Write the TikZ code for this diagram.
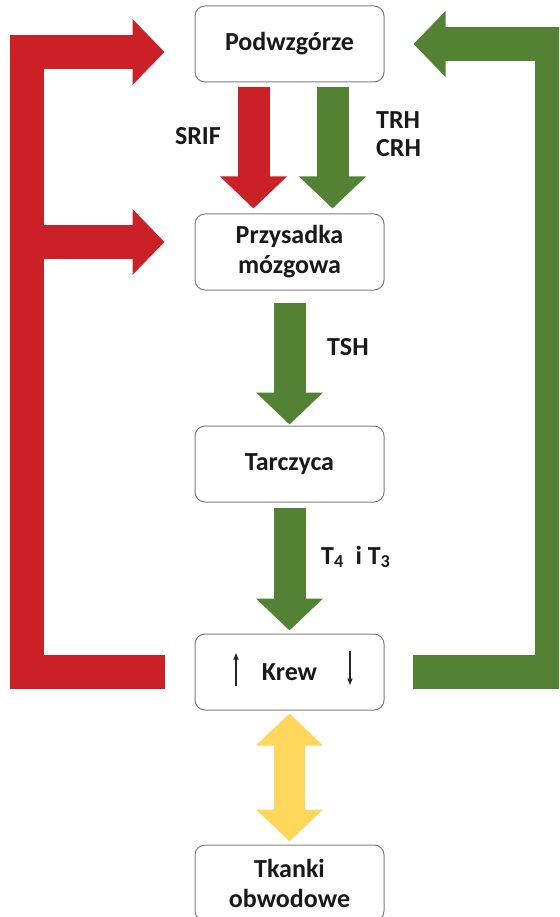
\documentclass[tikz,border=0pt]{standalone}
\usepackage{fontspec}
\setmainfont{Carlito}
\usetikzlibrary{positioning,arrows.meta}
\definecolor{hred}{RGB}{204,32,39}
\definecolor{hgreen}{RGB}{84,130,53}
\definecolor{hyellow}{RGB}{255,215,90}
\tikzstyle{organ} = [rectangle, rounded corners=10pt, minimum width=189pt, minimum height=76pt, text centered, align=center, draw=black!50, line width=1pt, fill=white, text=black!90, font=\bfseries\fontsize{26}{30}\selectfont]
\tikzstyle{hormone} = [font=\bfseries\fontsize{26}{28}\selectfont, align=left, inner sep=0pt, text=black!90]
\tikzstyle{downarrow} = [line width=32pt, -{Triangle[width=65pt,length=32pt]}]
\tikzstyle{feedback} = [line width=34pt, -{Triangle[width=64pt,length=32pt]}]
\tikzstyle{twoway} = [line width=31pt, {Triangle[width=65pt,length=32pt]}-{Triangle[width=65pt,length=32pt]}]
\tikzstyle{smallarrow} = [line width=1.1pt, black!85, -{Latex[length=7pt,width=6pt]}]

\begin{document}
\begin{tikzpicture}[x=1pt, y=1pt, node distance=131pt]

    \clip (0,0) rectangle (559,-917);
    \fill[white] (0,0) rectangle (559,-917);

    % Nodes
    \node (pod) [organ] at (289.5,-44) {Podwzgórze};
    \node (prz) [organ, below=of pod] {Przysadka\\mózgowa};
    \node (tar) [organ, below=135pt of prz] {Tarczyca};
    \node (krew) [organ, below=of tar] {Krew};
    \node (tk) [organ, below=134pt of krew] {Tkanki\\obwodowe};

    \coordinate (rl) at (26.5,0);
    \coordinate (gl) at (552,0);

    % Labels
    \node (srif) [hormone, anchor=east] at (221,-136) {SRIF};
    \node (trh) [hormone, anchor=west] at (376,-134) {TRH\\CRH};
    \node (tsh) [hormone, anchor=west] at (327,-347) {TSH};
    \node (t4) [hormone, anchor=west] at (321,-557) {T\textsubscript{4}\ \ i T\textsubscript{3}};

    % Arrows
    \draw [downarrow, hred] ([xshift=-36pt,yshift=-5pt]pod.south) -- ([xshift=-36pt,yshift=5pt]prz.north);
    \draw [downarrow, hgreen] ([xshift=43pt,yshift=-5pt]pod.south) -- ([xshift=43pt,yshift=5pt]prz.north);
    \draw [downarrow, hgreen] ([yshift=-12pt]prz.south) -- ([yshift=1pt]tar.north);
    \draw [downarrow, hgreen] ([yshift=-5pt]tar.south) -- ([yshift=3pt]krew.north);
    \draw [twoway, hyellow] ([yshift=-3pt]krew.south) -- ([yshift=3pt]tk.north);

    % Feedback
    \draw [feedback, hred] ([xshift=-30pt]krew.west) -- (krew.west -| rl) |- ([xshift=-30pt,yshift=-8pt]pod.west);
    \draw [feedback, hred] ([yshift=10pt]prz.west -| rl) -- ([xshift=-30pt,yshift=10pt]prz.west);
    \draw [feedback, hgreen] ([xshift=28pt]krew.east) -- (krew.east -| gl) |- ([xshift=29pt]pod.east);

    % Up and down in blood
    \draw [smallarrow] ([xshift=-53.5pt,yshift=-13.5pt]krew.center) -- ([xshift=-53.5pt,yshift=19.5pt]krew.center);
    \draw [smallarrow] ([xshift=60.5pt,yshift=21.5pt]krew.center) -- ([xshift=60.5pt,yshift=-13.5pt]krew.center);

\end{tikzpicture}
\end{document}
